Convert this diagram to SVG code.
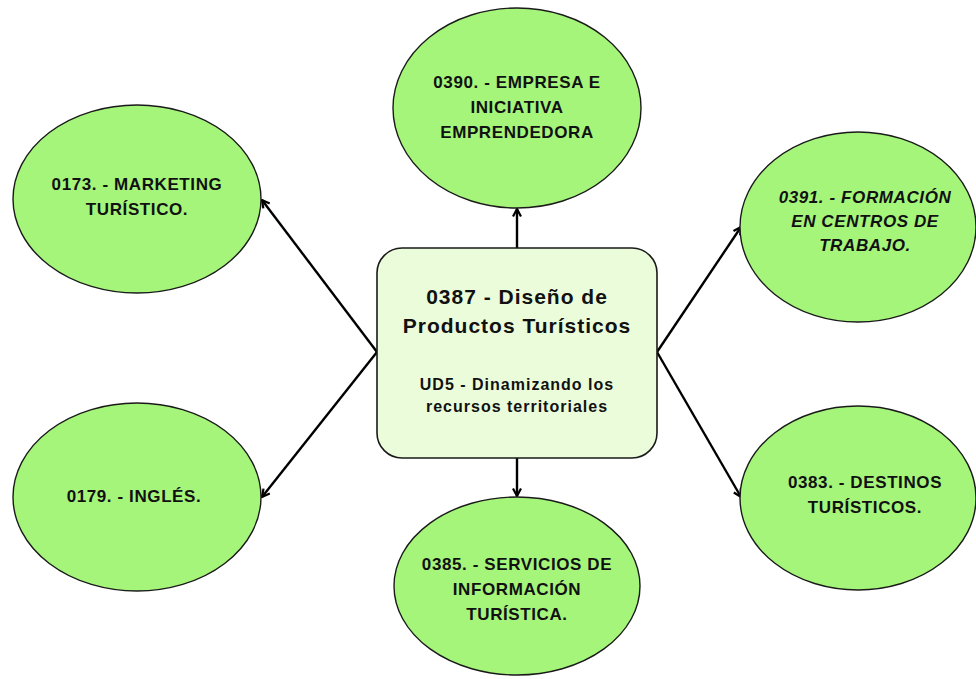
<svg xmlns="http://www.w3.org/2000/svg" width="976" height="679" viewBox="0 0 976 679">
<style>
.ell{fill:#a6f57b;stroke:#1a1a1a;stroke-width:1.4}
.box{fill:#ebfcdb;stroke:#1a1a1a;stroke-width:1.6}
.t{font-family:"Liberation Sans",Arial,sans-serif;font-weight:bold;font-size:17px;fill:#111;text-anchor:middle;letter-spacing:0.6px}
.it{font-style:italic}
.title{font-size:21px;letter-spacing:1px}
.sub{font-size:16px;letter-spacing:1px}
.con{stroke:#000;stroke-width:2.4;fill:none;marker-end:url(#arr)}
</style>
<defs>
<marker id="arr" viewBox="0 0 10 10" refX="9" refY="5" markerWidth="10" markerHeight="10" markerUnits="userSpaceOnUse" orient="auto">
<path d="M1.5,1 L9,5 L1.5,9" fill="none" stroke="#000" stroke-width="2.2"/>
</marker>
</defs>
<g id="connectors">
<line class="con" x1="517" y1="248" x2="517" y2="209"/>
<line class="con" x1="517" y1="458" x2="517" y2="496"/>
<line class="con" x1="377" y1="352" x2="262" y2="200"/>
<line class="con" x1="377" y1="352" x2="262" y2="497"/>
<line class="con" x1="657" y1="352" x2="741" y2="227"/>
<line class="con" x1="657" y1="352" x2="741" y2="497"/>
</g>
<g id="center">
<rect class="box" x="377" y="248" width="280" height="210" rx="25" ry="25"/>
<text class="t title" x="517" y="304">0387 - Diseño de</text>
<text class="t title" x="517" y="333">Productos Turísticos</text>
<text class="t sub" x="517" y="390">UD5 - Dinamizando los</text>
<text class="t sub" x="517" y="412">recursos territoriales</text>
</g>
<g id="n0390">
<ellipse class="ell" cx="517" cy="108" rx="124" ry="100"/>
<text class="t" x="517" y="88">0390. - EMPRESA E</text>
<text class="t" x="517" y="113">INICIATIVA</text>
<text class="t" x="517" y="138">EMPRENDEDORA</text>
</g>
<g id="n0173">
<ellipse class="ell" cx="137" cy="199" rx="124" ry="94"/>
<text class="t" x="137" y="190">0173. - MARKETING</text>
<text class="t" x="137" y="215">TURÍSTICO.</text>
</g>
<g id="n0179">
<ellipse class="ell" cx="137" cy="497" rx="124" ry="94"/>
<text class="t" x="134" y="502">0179. - INGLÉS.</text>
</g>
<g id="n0391">
<ellipse class="ell" cx="858" cy="227" rx="118" ry="95"/>
<text class="t it" x="865" y="203">0391. - FORMACIÓN</text>
<text class="t it" x="865" y="227">EN CENTROS DE</text>
<text class="t it" x="865" y="251">TRABAJO.</text>
</g>
<g id="n0383">
<ellipse class="ell" cx="858" cy="498" rx="118" ry="92"/>
<text class="t" x="865" y="488">0383. - DESTINOS</text>
<text class="t" x="865" y="513">TURÍSTICOS.</text>
</g>
<g id="n0385">
<ellipse class="ell" cx="517" cy="586" rx="123" ry="89"/>
<text class="t" x="517" y="570">0385. - SERVICIOS DE</text>
<text class="t" x="517" y="595">INFORMACIÓN</text>
<text class="t" x="517" y="620">TURÍSTICA.</text>
</g>
</svg>
